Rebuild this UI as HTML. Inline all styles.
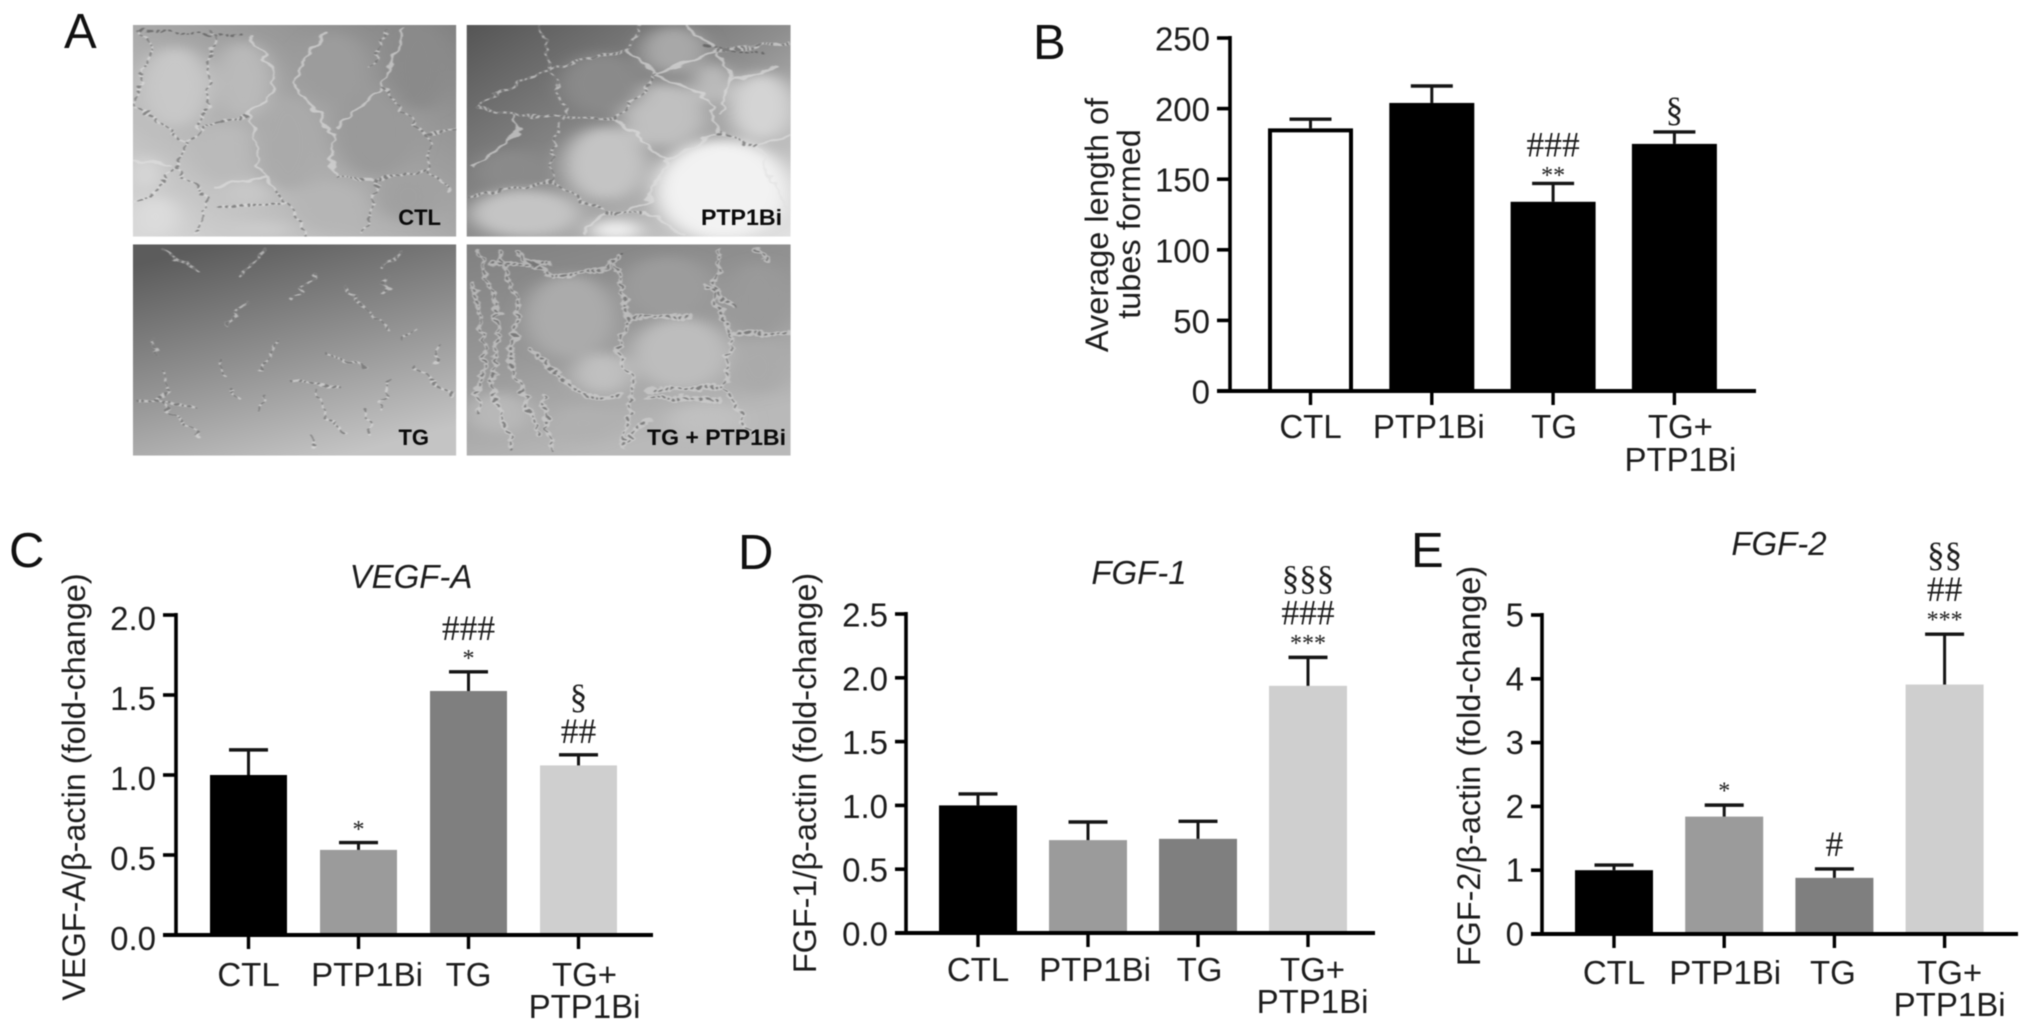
<!DOCTYPE html>
<html lang="en">
<head>
<meta charset="utf-8">
<title>Tube formation and angiogenic factor expression</title>
<style>
html,body{margin:0;padding:0;background:#fff;width:2032px;height:1032px;overflow:hidden}
svg#figure{display:block;filter:blur(.6px)}
text{font-family:"Liberation Sans",sans-serif;fill:#1d1d1d}
.serif{font-family:"Liberation Serif",serif}
.micro-label{font-weight:700;font-size:22px;fill:#0a0a0a}
.panel-letter{font-size:49px;fill:#111}
.net-l,.net-d,.net-c{fill:none;vector-effect:non-scaling-stroke;stroke-linecap:round;stroke-linejoin:round}
.net-l{stroke:#e2e2e2;stroke-width:2.6;opacity:.6}
.net-d{stroke:#4c4c4c;stroke-width:1.5;stroke-dasharray:1 5;opacity:.6}
.net-c{stroke:#444;stroke-width:2.4;stroke-dasharray:1.5 5;opacity:.55}
.net-w{fill:none;vector-effect:non-scaling-stroke;stroke:#d4d4d4;stroke-width:6;stroke-dasharray:2 5;stroke-linecap:round;opacity:.6}
.net-o{filter:url(#organic)}
</style>
</head>
<body>
<svg id="figure" xmlns="http://www.w3.org/2000/svg" width="2032" height="1032" viewBox="0 0 2032 1032">
<defs>
<linearGradient id="g-ctl" x1="0" y1="1" x2="1" y2="0"><stop offset="0" stop-color="#d8d8d8"/><stop offset=".5" stop-color="#a9a9a9"/><stop offset="1" stop-color="#828282"/></linearGradient>
<linearGradient id="g-ptp" x1="0" y1="0" x2="1" y2="1"><stop offset="0" stop-color="#555"/><stop offset=".5" stop-color="#8e8e8e"/><stop offset="1" stop-color="#e2e2e2"/></linearGradient>
<linearGradient id="g-tg" x1=".25" y1="0" x2=".65" y2="1"><stop offset="0" stop-color="#5c5c5c"/><stop offset=".5" stop-color="#8f8f8f"/><stop offset="1" stop-color="#c4c4c4"/></linearGradient>
<linearGradient id="g-tgp" x1="0" y1="0" x2=".4" y2="1"><stop offset="0" stop-color="#808080"/><stop offset=".5" stop-color="#979797"/><stop offset="1" stop-color="#b9b9b9"/></linearGradient>
<filter id="soft" x="-20%" y="-20%" width="140%" height="140%"><feGaussianBlur stdDeviation="16"/></filter>
<filter id="organic" x="-5%" y="-5%" width="110%" height="110%"><feTurbulence type="fractalNoise" baseFrequency="0.035" numOctaves="2" seed="4" result="n"/><feDisplacementMap in="SourceGraphic" in2="n" scale="26" xChannelSelector="R" yChannelSelector="G"/><feGaussianBlur stdDeviation="0.9"/></filter>
<clipPath id="clip-ctl"><rect x="205" y="75" width="499" height="635"/></clipPath>
<clipPath id="clip-ptp"><rect x="720" y="75" width="500" height="635"/></clipPath>
<clipPath id="clip-tg"><rect x="205" y="733" width="499" height="634"/></clipPath>
<clipPath id="clip-tgp"><rect x="720" y="733" width="500" height="634"/></clipPath>
</defs>
<rect width="2032" height="1032" fill="#fff"/>

<g id="panel-a">
<g transform="scale(0.6481,0.33333)">
<g clip-path="url(#clip-ctl)">
<rect x="205" y="75" width="499" height="635" fill="url(#g-ctl)"/>
<g filter="url(#soft)">
<ellipse cx="270" cy="260" rx="55" ry="120" fill="#c8c8c8"/><ellipse cx="375" cy="240" rx="45" ry="115" fill="#bababa"/><ellipse cx="350" cy="460" rx="50" ry="85" fill="#bababa"/><ellipse cx="445" cy="430" rx="55" ry="140" fill="#aaa"/><ellipse cx="580" cy="395" rx="65" ry="135" fill="#9a9a9a"/><ellipse cx="515" cy="200" rx="50" ry="100" fill="#9c9c9c"/><ellipse cx="645" cy="200" rx="50" ry="130" fill="#8a8a8a"/><ellipse cx="630" cy="590" rx="50" ry="70" fill="#a0a0a0"/><ellipse cx="510" cy="620" rx="55" ry="70" fill="#b5b5b5"/><ellipse cx="240" cy="650" rx="35" ry="60" fill="#dcdcdc"/><ellipse cx="380" cy="580" rx="35" ry="40" fill="#c8c8c8"/><ellipse cx="225" cy="520" rx="20" ry="50" fill="#d8d8d8"/><ellipse cx="400" cy="690" rx="50" ry="20" fill="#ccc"/>
</g>
<g id="net-ctl" class="net-o">
<path d="M215,90L240,140L215,230L210,320L260,390L290,430L270,500L240,580L205,610M330,90L325,200L320,320L300,390M385,110L420,210L415,300L380,345L320,375L290,420M500,100L465,190L455,260L490,340L512,400L515,530M620,90L590,260L520,380M590,260L640,370L665,420L660,520L700,570M660,400L704,390M385,340L400,500L425,575L450,620L470,710M515,530L580,540L660,510M580,540L575,620L560,700M270,500L320,600L305,700M330,560L410,530M340,620L440,610M600,90L570,200M205,480L260,495" class="net-l"/>
<path d="M215,90L240,140L215,230L210,320L260,390L290,430L270,500L240,580L205,610M330,90L325,200L320,320L300,390M380,345L320,375L290,420M590,260L640,370L665,420L660,520L700,570M660,400L704,390M425,575L450,620L470,710M515,530L580,540L660,510M580,540L575,620L560,700M600,90L570,200M340,620L440,610M220,90L380,110M270,500L320,600L305,700" class="net-c"/>
</g>
</g>
<g clip-path="url(#clip-ptp)">
<rect x="720" y="75" width="500" height="635" fill="url(#g-ptp)"/>
<g filter="url(#soft)">
<ellipse cx="1115" cy="570" rx="105" ry="150" fill="#f2f2f2"/><ellipse cx="935" cy="490" rx="65" ry="110" fill="#c4c4c4"/><ellipse cx="1025" cy="345" rx="65" ry="95" fill="#c0c0c0"/><ellipse cx="1175" cy="320" rx="50" ry="100" fill="#d4d4d4"/><ellipse cx="810" cy="640" rx="85" ry="70" fill="#c4c4c4"/><ellipse cx="930" cy="250" rx="65" ry="90" fill="#8a8a8a"/><ellipse cx="1040" cy="150" rx="50" ry="70" fill="#a8a8a8"/><ellipse cx="790" cy="510" rx="55" ry="60" fill="#8a8a8a"/><ellipse cx="950" cy="690" rx="40" ry="30" fill="#eee"/><ellipse cx="1100" cy="250" rx="30" ry="60" fill="#bbb"/>
</g>
<g id="net-ptp" class="net-o">
<path d="M835,80L845,180L860,260L870,340L850,470L850,540L890,590L930,630M730,320L800,250L860,200L970,150L985,80M970,150L1015,225L1105,150L1060,80M1015,225L950,355L870,350L790,345L730,320M790,350L800,400L730,500M950,355L1000,440L1030,480L1000,600L960,640M1015,225L1090,290L1110,400L1030,480M1110,400L1170,440L1220,400M1105,150L1130,240L1110,340M1130,240L1200,200M1105,150L1220,130M1170,440L1220,640M720,590L850,540M900,700L930,640L1000,640L1050,700" class="net-l"/>
<path d="M835,80L845,180L860,260L870,340L850,470L850,540L890,590L930,630M730,320L800,250L860,200L970,150L985,80M1015,225L950,355L870,350L790,345L730,320M720,590L850,540M930,640L1000,640M1105,150L1220,130M1090,140L1180,160M1110,400L1170,440" class="net-c"/>
</g>
</g>
<g clip-path="url(#clip-tg)">
<rect x="205" y="733" width="499" height="634" fill="url(#g-tg)"/>
<g id="net-tg" class="net-o">
<path d="M250,750L310,810M410,750L370,830M490,820L450,900M530,860L600,990M380,910L350,970M600,830L590,880M430,1020L400,1110M500,1060L560,1100M640,1100L700,1190M250,1110L260,1180L240,1200L310,1310M340,1080L345,1130M350,1160L370,1195M450,1140L520,1165M600,1140L590,1230M490,1170L500,1250L535,1295M210,1200L300,1220M565,1230L570,1300M235,1020L240,1060M620,1020L640,990M680,1040L670,1090M620,760L590,800M410,1190L400,1230M480,1310L485,1345" class="net-l"/>
<path d="M250,750L310,810M410,750L370,830M490,820L450,900M530,860L600,990M380,910L350,970M600,830L590,880M430,1020L400,1110M500,1060L560,1100M640,1100L700,1190M250,1110L260,1180L240,1200L310,1310M340,1080L345,1130M350,1160L370,1195M450,1140L520,1165M600,1140L590,1230M490,1170L500,1250L535,1295M210,1200L300,1220M565,1230L570,1300M235,1020L240,1060M620,1020L640,990M680,1040L670,1090M620,760L590,800M410,1190L400,1230M480,1310L485,1345" class="net-c"/>
</g>
</g>
<g clip-path="url(#clip-tgp)">
<rect x="720" y="733" width="500" height="634" fill="url(#g-tgp)"/>
<g filter="url(#soft)">
<ellipse cx="880" cy="950" rx="70" ry="125" fill="#ababab"/><ellipse cx="1050" cy="1060" rx="75" ry="105" fill="#bdbdbd"/><ellipse cx="930" cy="1120" rx="45" ry="60" fill="#c0c0c0"/><ellipse cx="1030" cy="860" rx="70" ry="90" fill="#9c9c9c"/><ellipse cx="1170" cy="900" rx="50" ry="110" fill="#9a9a9a"/><ellipse cx="1170" cy="1100" rx="50" ry="80" fill="#aaa"/><ellipse cx="770" cy="1240" rx="50" ry="60" fill="#b8b8b8"/><ellipse cx="1090" cy="1260" rx="60" ry="50" fill="#c0c0c0"/><ellipse cx="900" cy="1270" rx="50" ry="50" fill="#b0b0b0"/>
</g>
<g id="net-tgp" class="net-o">
<path d="M740,760L770,950L760,1150L790,1350M770,760L800,900L790,1100L830,1300M730,850L750,1050L735,1240M800,760L850,830L930,810L960,760M760,790L850,790M950,800L970,960L950,1060L980,1150L960,1340M1110,750L1100,900L1130,1000L1120,1160L1000,1170M1090,860L1130,920M970,950L1070,950M1130,1000L1220,1000M820,1050L900,1190L960,1190M1170,750L1190,790M1120,1170L1160,1300M960,1340L1000,1260M840,1190L850,1350M1000,1190L1110,1200" class="net-w"/>
<path d="M740,760L770,950L760,1150L790,1350M770,760L800,900L790,1100L830,1300M730,850L750,1050L735,1240M800,760L850,830L930,810L960,760M760,790L850,790M950,800L970,960L950,1060L980,1150L960,1340M1110,750L1100,900L1130,1000L1120,1160L1000,1170M1090,860L1130,920M970,950L1070,950M1130,1000L1220,1000M820,1050L900,1190L960,1190M1170,750L1190,790M1120,1170L1160,1300M960,1340L1000,1260M840,1190L850,1350M1000,1190L1110,1200" class="net-c"/>
</g>
</g>
</g>
<text class="micro-label" x="441" y="225" text-anchor="end">CTL</text>
<text class="micro-label" x="782" y="225" text-anchor="end" textLength="81" lengthAdjust="spacingAndGlyphs">PTP1Bi</text>
<text class="micro-label" x="429" y="445" text-anchor="end">TG</text>
<text class="micro-label" x="647" y="445" textLength="139" lengthAdjust="spacingAndGlyphs">TG + PTP1Bi</text>
</g>

<text class="panel-letter" x="64" y="48">A</text>
<text class="panel-letter" x="1033" y="59">B</text>
<text class="panel-letter" x="9" y="567">C</text>
<text class="panel-letter" x="738" y="569">D</text>
<text class="panel-letter" x="1411" y="567">E</text>
<g id="charts"></g>
</svg>

<script>
var categories = ['CTL', 'PTP1Bi', 'TG', 'TG+ PTP1Bi'];

var bTickLabels = ['0', '50', '100', '150', '200', '250'];
var bValues = [186, 204, 134, 175];
var bErrorTops = [192.5, 216, 147, 183.5];
var bAnnotations = [[], [], ['**', '###'], ['§']];

var cTickLabels = ['0.0', '0.5', '1.0', '1.5', '2.0'];
var cValues = [1.0, 0.532, 1.525, 1.06];
var cErrorTops = [1.157, 0.578, 1.645, 1.126];
var cAnnotations = [[], ['*'], ['*', '###'], ['##', '§']];

var dTickLabels = ['0.0', '0.5', '1.0', '1.5', '2.0', '2.5'];
var dValues = [1.0, 0.728, 0.738, 1.937];
var dErrorTops = [1.09, 0.87, 0.875, 2.16];
var dAnnotations = [[], [], [], ['***', '###', '§§§']];

var eTickLabels = ['0', '1', '2', '3', '4', '5'];
var eValues = [1.0, 1.84, 0.88, 3.91];
var eErrorTops = [1.08, 2.02, 1.02, 4.70];
var eAnnotations = [[], ['*'], ['#'], ['***', '##', '§§']];

var barColors = ['#000000', '#9b9b9b', '#7f7f7f', '#cfcfcf'];
var SVGNS = 'http://www.w3.org/2000/svg';

function make(tag, parent, attrs, content) {
  var node = document.createElementNS(SVGNS, tag);
  for (var key in attrs) { node.setAttribute(key, attrs[key]); }
  if (content !== undefined) { node.textContent = content; }
  parent.appendChild(node);
  return node;
}

function drawChart(opt) {
  var root = document.getElementById('charts');
  var g = make('g', root, {});
  
  

  var ticks = opt.tickLabels.map(parseFloat);
  var yMax = ticks[ticks.length - 1];
  function yScale(v) { return opt.baseY - (v / yMax) * (opt.baseY - opt.topY); }
  function xScale(i) { return opt.x0 + i * opt.step; }

  opt.values.forEach(function (value, i) {
    var x = xScale(i), yTop = yScale(value), yErr = yScale(opt.errorTops[i]);
    var outlined = opt.outlineFirst && i === 0;
    var bar = make('rect', g, {
      x: x - opt.barW / 2 + (outlined ? 2 : 0),
      y: yTop + (outlined ? 2 : 0),
      width: opt.barW - (outlined ? 4 : 0),
      height: Math.max(0, opt.baseY - yTop - (outlined ? 2 : 0)),
      fill: outlined ? '#ffffff' : (opt.allBlack ? '#000000' : barColors[i]),
      stroke: outlined ? '#000000' : 'none',
      'stroke-width': outlined ? 4 : 0
    });
    
    

    var stem = make('line', g, { x1: x, x2: x, y1: yTop, y2: yErr, stroke: '#151515', 'stroke-width': 3 });
    
    

    var cap = make('line', g, { x1: x - opt.capW / 2, x2: x + opt.capW / 2, y1: yErr, y2: yErr, stroke: '#151515', 'stroke-width': 3.4 });
    
    

    var bottom = yErr - opt.annotGap;
    opt.annotations[i].forEach(function (row) {
      var first = row.charAt(0), baseline, size, rise;
      if (first === '*') { size = 24; baseline = bottom + 6.4; rise = 20; }
      else if (first === '#') { size = 35.5; baseline = bottom; rise = 31; }
      else { size = 35; baseline = bottom - 4; rise = 31; }
      var note = make('text', g, { x: x, y: baseline, 'text-anchor': 'middle', 'font-size': size, 'class': 'serif' }, row);
      
      
      bottom -= rise;
    });
  });

  var yAxis = make('line', g, { x1: opt.axisX, x2: opt.axisX, y1: opt.topY - 2, y2: opt.baseY, stroke: '#000', 'stroke-width': 3.6 });
  
  

  var xAxis = make('line', g, { x1: opt.tickLeft, x2: opt.axisEnd, y1: opt.baseY, y2: opt.baseY, stroke: '#000', 'stroke-width': 4 });
  
  

  opt.tickLabels.forEach(function (label, i) {
    var y = yScale(ticks[i]);
    var tick = make('line', g, { x1: opt.tickLeft, x2: opt.axisX, y1: y, y2: y, stroke: '#000', 'stroke-width': 3.6 });
    
    
    var text = make('text', g, { x: opt.tickLeft - 7, y: y + opt.tickDy, 'text-anchor': 'end', 'font-size': 33 }, label);
    
    
  });

  categories.forEach(function (name, i) {
    var x = xScale(i);
    var tick = make('line', g, { x1: x, x2: x, y1: opt.baseY, y2: opt.baseY + 14, stroke: '#000', 'stroke-width': 3.4 });
    
    
    name.split(' ').forEach(function (line, k) {
      var text = make('text', g, { x: x + opt.labelDx[i], y: opt.labelY + k * opt.labelLead, 'text-anchor': 'middle', 'font-size': 33 }, line);
      
      
    });
  });

  opt.yTitles.forEach(function (t) {
    var title = make('text', g, { x: t.x, y: t.y, 'text-anchor': 'middle', 'font-size': t.size, transform: 'rotate(-90 ' + t.x + ' ' + t.y + ')' }, t.text);
    
    
  });

  if (opt.title) {
    var head = make('text', g, { x: opt.title.x, y: opt.title.y, 'text-anchor': 'middle', 'font-size': 33, 'font-style': 'italic' }, opt.title.text);
    
    
  }
}

drawChart({
  id: 'b', tickLabels: bTickLabels, values: bValues, errorTops: bErrorTops, annotations: bAnnotations,
  baseY: 391, topY: 38, axisX: 1230, tickLeft: 1217, axisEnd: 1756, tickDy: 12.5,
  x0: 1310.5, step: 121.3, barW: 85, capW: 42, annotGap: 7, outlineFirst: true, allBlack: true,
  labelDx: [0, -3, 1, 6], labelY: 438, labelLead: 33,
  yTitles: [
    { text: 'Average length of', x: 1108, y: 225, size: 32.5 },
    { text: 'tubes formed', x: 1140, y: 224, size: 32.5 }
  ]
});

drawChart({
  id: 'c', tickLabels: cTickLabels, values: cValues, errorTops: cErrorTops, annotations: cAnnotations,
  baseY: 935, topY: 615, axisX: 176, tickLeft: 163, axisEnd: 653, tickDy: 15,
  x0: 248.5, step: 110, barW: 77, capW: 39, annotGap: 12,
  labelDx: [0, 8.5, 0, 6], labelY: 986, labelLead: 32,
  yTitles: [{ text: 'VEGF-A/β-actin (fold-change)', x: 85, y: 787, size: 32.4 }],
  title: { text: 'VEGF-A', x: 411, y: 588 }
});

drawChart({
  id: 'd', tickLabels: dTickLabels, values: dValues, errorTops: dErrorTops, annotations: dAnnotations,
  baseY: 933, topY: 614, axisX: 906, tickLeft: 895, axisEnd: 1375, tickDy: 12.5,
  x0: 978, step: 110, barW: 78, capW: 39, annotGap: 13,
  labelDx: [0, 7, 1.5, 4.5], labelY: 981, labelLead: 32,
  yTitles: [{ text: 'FGF-1/β-actin (fold-change)', x: 816, y: 773, size: 32.4 }],
  title: { text: 'FGF-1', x: 1139, y: 584 }
});

drawChart({
  id: 'e', tickLabels: eTickLabels, values: eValues, errorTops: eErrorTops, annotations: eAnnotations,
  baseY: 934, topY: 615, axisX: 1542, tickLeft: 1531, axisEnd: 2018, tickDy: 11.5,
  x0: 1614, step: 110.2, barW: 78, capW: 39, annotGap: 13,
  labelDx: [0, 1, -1.5, 5], labelY: 984, labelLead: 32,
  yTitles: [{ text: 'FGF-2/β-actin (fold-change)', x: 1480, y: 766, size: 32.4 }],
  title: { text: 'FGF-2', x: 1779, y: 555 }
});
</script>
</body>
</html>
